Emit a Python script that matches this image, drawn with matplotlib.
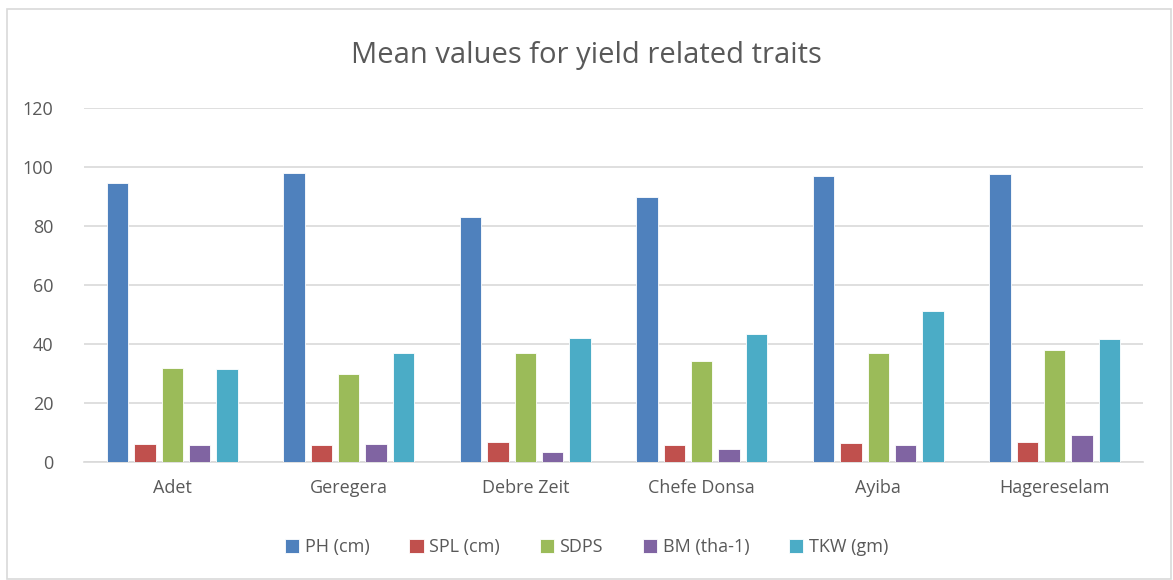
import numpy as np
import matplotlib
matplotlib.use("Agg")
import matplotlib.pyplot as plt

sites = ["Adet", "Geregera", "Debre Zeit", "Chefe Donsa", "Ayiba", "Hagereselam"]
traits = ["PH (cm)", "SPL (cm)", "SDPS", "BM (tha-1)", "TKW (gm)"]
ph = [94.5, 97.9, 83.1, 89.9, 97.1, 97.5]
spl = [6.2, 5.9, 6.9, 5.6, 6.6, 6.7]
sdps = [32.0, 29.9, 36.9, 34.1, 36.9, 37.9]
bm = [5.6, 6.2, 3.3, 4.5, 5.6, 9.3]
tkw = [31.5, 36.8, 42.0, 43.3, 51.1, 41.7]
colors = ["#4F81BD", "#C0504D", "#9BBB59", "#8064A2", "#4BACC6"]

plt.rcParams["font.family"] = ["Open Sans", "DejaVu Sans"]
TXT = "#595959"

fig = plt.figure(figsize=(11.73, 5.8), dpi=100)
ax = fig.add_axes([84 / 1173, 118 / 580, 1059 / 1173, 354 / 580])

x = np.arange(len(sites))
step = 0.155
w = 0.121
for i, (vals, c, lab) in enumerate(zip([ph, spl, sdps, bm, tkw], colors, traits)):
    ax.bar(x + (i - 2) * step, vals, w, color=c, label=lab, zorder=3,
           edgecolor="white", linewidth=0.6)

ax.set_xlim(-0.5, len(sites) - 0.5)
ax.set_ylim(0, 120)
ax.set_yticks(range(0, 121, 20))
ax.yaxis.grid(True, color="#d9d9d9", lw=1.2, zorder=0)
ax.set_xticks(x, sites)
ax.tick_params(axis="both", length=0, labelsize=13, colors=TXT)
ax.tick_params(axis="x", pad=12)
ax.tick_params(axis="y", pad=22)
for s in ["top", "right", "left"]:
    ax.spines[s].set_visible(False)
ax.spines["bottom"].set_color("#d9d9d9")
ax.spines["bottom"].set_linewidth(1.2)

fig.text(0.5, 1 - 55 / 580, "Mean values for yield related traits", ha="center", va="center",
         fontsize=21, color=TXT)
fig.legend(loc="center", bbox_to_anchor=(0.5, 1 - 547 / 580), ncol=5, frameon=False,
           fontsize=13, labelcolor=TXT, handlelength=0.8, handleheight=0.8,
           handletextpad=0.3, columnspacing=2.2)

fig.patches.append(plt.Rectangle((7 / 1173, 1 / 580), 1164 / 1173, 570 / 580,
                                 transform=fig.transFigure, fill=False,
                                 edgecolor="#d9d9d9", lw=1.2))
fig.savefig("out.png", dpi=100)
